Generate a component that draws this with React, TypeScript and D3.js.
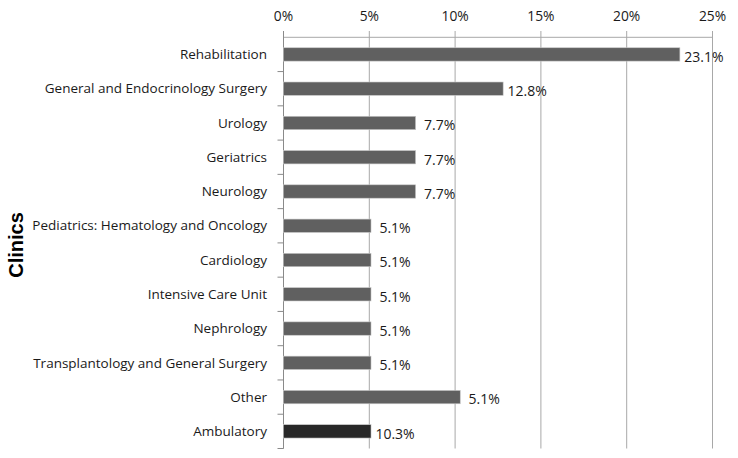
import React from "react";
import * as d3 from "d3";

const categories = [
  "Rehabilitation",
  "General and Endocrinology Surgery",
  "Urology",
  "Geriatrics",
  "Neurology",
  "Pediatrics: Hematology and Oncology",
  "Cardiology",
  "Intensive Care Unit",
  "Nephrology",
  "Transplantology and General Surgery",
  "Other",
  "Ambulatory",
];
const barValues = [23.1, 12.8, 7.7, 7.7, 7.7, 5.1, 5.1, 5.1, 5.1, 5.1, 10.3, 5.1];
const valueLabels = ["23.1%", "12.8%", "7.7%", "7.7%", "7.7%", "5.1%", "5.1%", "5.1%", "5.1%", "5.1%", "5.1%", "10.3%"];
const barColors = ["#606060", "#606060", "#606060", "#606060", "#606060", "#606060", "#606060", "#606060", "#606060", "#606060", "#606060", "#282828"];
const xTicks = [0, 5, 10, 15, 20, 25];
const axisTitle = "Clinics";

const W = 738;
const H = 458;
const left = 283.5;
const right = 712.5;
const top = 37.3;
const bottom = 448.5;
const FONT = "'Open Sans', sans-serif";

export default function App() {
  const x = d3.scaleLinear().domain([0, 25]).range([left, right]);
  const y = d3
    .scaleBand<string>()
    .domain(categories)
    .range([top, bottom])
    .paddingInner(0.61)
    .paddingOuter(0.305);
  const step = y.step();
  const grid = "#a8a8a8";

  return (
    <svg
      width={W}
      height={H}
      viewBox={`0 0 ${W} ${H}`}
      style={{ position: "absolute", left: 0, top: 0, background: "#fff" }}
    >
      <rect x={0} y={0} width={W} height={H} fill="#fff" />
      {xTicks.map((t) => (
        <g key={t}>
          <line x1={x(t)} x2={x(t)} y1={31} y2={bottom} stroke={grid} strokeWidth={1} />
          <text
            x={x(t)}
            y={21}
            textAnchor="middle"
            fontFamily={FONT}
            fontSize={13.8}
            fill="#1a1a1a"
          >
            {`${t}%`}
          </text>
        </g>
      ))}
      <line x1={left} x2={right} y1={top} y2={top} stroke={grid} strokeWidth={1} />
      <line x1={left} x2={left} y1={31} y2={bottom} stroke="#8a8a8a" strokeWidth={1} />
      {categories.map((c, i) => (
        <line
          key={"t" + i}
          x1={left - 6}
          x2={left}
          y1={top + step * (i + 1)}
          y2={top + step * (i + 1)}
          stroke="#8a8a8a"
          strokeWidth={1}
        />
      ))}
      {categories.map((c, i) => (
        <rect
          key={"b" + i}
          x={x(0)}
          y={y(c)!}
          width={x(barValues[i]) - x(0)}
          height={y.bandwidth()}
          fill={barColors[i]}
          stroke="#c8c8c8"
          strokeWidth={0.6}
        />
      ))}
      {categories.map((c, i) => (
        <text
          key={"c" + i}
          x={267}
          y={y(c)! + y.bandwidth() / 2}
          dy="0.35em"
          textAnchor="end"
          fontFamily={FONT}
          fontSize={13.5}
          fill="#1a1a1a"
        >
          {c}
        </text>
      ))}
      {categories.map((c, i) => (
        <text
          key={"v" + i}
          x={x(barValues[i]) + 24}
          y={y(c)! + y.bandwidth() / 2}
          dy="0.52em"
          textAnchor="middle"
          fontFamily={FONT}
          fontSize={14}
          fill="#1a1a1a"
        >
          {valueLabels[i]}
        </text>
      ))}
      <text
        transform={`translate(23, 245) rotate(-90)`}
        textAnchor="middle"
        fontFamily="'Liberation Sans', Arial, sans-serif"
        fontWeight="bold"
        fontSize={20}
        fill="#000"
      >
        {axisTitle}
      </text>
    </svg>
  );
}
